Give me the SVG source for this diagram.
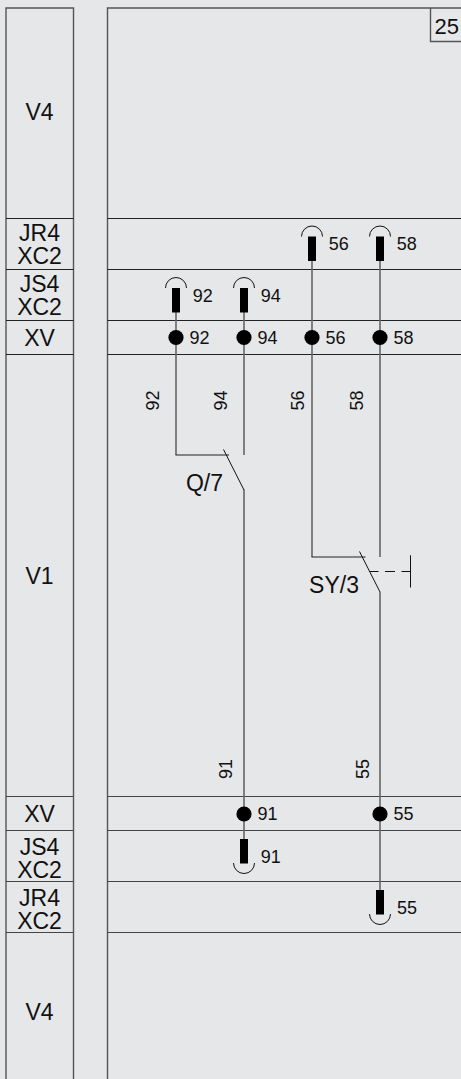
<svg xmlns="http://www.w3.org/2000/svg" width="461" height="1079" viewBox="0 0 461 1079">
<style>
.g{stroke:#555;stroke-width:1.4;fill:none}
.h{stroke:#222;stroke-width:1.1;fill:none}
.k{stroke:#444;stroke-width:1.2;fill:none}
.w{stroke:#666;stroke-width:1.6;fill:none}
.d{stroke:#222;stroke-width:1.1;fill:none}
.s{stroke:#111;stroke-width:1;fill:none}
.t{font-family:"Liberation Sans",Arial,sans-serif;fill:#111}
.l{font-size:23px;text-anchor:middle}
.n{font-size:18px}
.p{fill:#000}
</style>
<rect width="461" height="1079" fill="#e6e7e9"/>
<g id="frame">
<path class="g" d="M6 1079V8H73.500V1079M107.500 1079V8H461"/>
<path class="h" d="M6 218.500H73.500M6 269.500H73.500M6 320.500H73.500M6 354.500H73.500"/>
<path class="k" d="M6 796.500H73.500M6 830.500H73.500M6 881.500H73.500M6 932.500H73.500"/>
<path class="h" d="M107.500 218.500H461M107.500 269.500H461M107.500 320.500H461M107.500 354.500H461"/>
<path class="k" d="M107.500 796.500H461M107.500 830.500H461M107.500 881.500H461M107.500 932.500H461"/>
<path class="g" d="M430.500 8V41.500H461"/>
<text class="t" x="434.500" y="33.500" font-size="22">25</text>
</g>
<g id="row-labels">
<text class="t l" x="39.500" y="119.500">V4</text>
<text class="t l" x="39.500" y="241">JR4</text><text class="t l" x="39.500" y="263.500">XC2</text>
<text class="t l" x="39.500" y="292">JS4</text><text class="t l" x="39.500" y="314.500">XC2</text>
<text class="t l" x="39.500" y="345.500">XV</text>
<text class="t l" x="39.500" y="584">V1</text>
<text class="t l" x="39.500" y="822">XV</text>
<text class="t l" x="39.500" y="855">JS4</text><text class="t l" x="39.500" y="877.500">XC2</text>
<text class="t l" x="39.500" y="906">JR4</text><text class="t l" x="39.500" y="928.500">XC2</text>
<text class="t l" x="39.500" y="1020">V4</text>
</g>
<g id="connectors">
<path class="w" d="M176 312V455"/>
<path class="d" d="M175.500 455H229"/>
<path class="w" d="M244 312V455"/>
<path class="w" d="M244 489.500V848"/>
<path class="w" d="M312 260V557"/>
<path class="d" d="M311.500 557H365.500"/>
<path class="w" d="M380 260V557"/>
<path class="w" d="M380 592V900"/>
</g>
<g id="Q7">
<path class="s" d="M223.500 449.500L244 490"/>
<text class="t l" x="204.500" y="490.500">Q/7</text>
</g>
<g id="SY3">
<path class="s" d="M359.500 551.500L380 592"/>
<path class="s" d="M370 571.500H410" stroke-dasharray="8.500 6.500 10 6.500 8.500"/>
<path class="s" d="M410.500 555.300V587.500"/>
<text class="t l" x="334" y="593">SY/3</text>
</g>
<g id="terminals">
<circle class="p" cx="176" cy="337.500" r="7.600"/><circle class="p" cx="244" cy="337.500" r="7.600"/><circle class="p" cx="312" cy="337.500" r="7.600"/><circle class="p" cx="380" cy="337.500" r="7.600"/><circle class="p" cx="244" cy="814" r="7.600"/><circle class="p" cx="380" cy="814" r="7.600"/>
<text class="t n" x="189.500" y="343.700">92</text><text class="t n" x="257.500" y="343.700">94</text><text class="t n" x="325.500" y="343.700">56</text><text class="t n" x="393.500" y="343.700">58</text><text class="t n" x="257.500" y="820">91</text><text class="t n" x="393.500" y="820">55</text>
</g>
<g id="connectors-pins">
<rect class="p" x="172" y="288" width="8" height="24.500"/>
<rect class="p" x="240" y="288" width="8" height="24.500"/>
<rect class="p" x="308" y="236.500" width="8" height="24.500"/>
<rect class="p" x="376" y="236.500" width="8" height="24.500"/>
<rect class="p" x="240" y="839" width="8" height="24.500"/>
<rect class="p" x="376" y="890" width="8" height="24.500"/>
<path class="s" d="M165.500 288A10.500 10.500 0 0 1 186.500 288"/>
<path class="s" d="M233.500 288A10.500 10.500 0 0 1 254.500 288"/>
<path class="s" d="M301.500 236.500A10.500 10.500 0 0 1 322.500 236.500"/>
<path class="s" d="M369.500 236.500A10.500 10.500 0 0 1 390.500 236.500"/>
<path class="s" d="M233.500 863A10.500 10.500 0 0 0 254.500 863"/>
<path class="s" d="M369.500 914A10.500 10.500 0 0 0 390.500 914"/>
<text class="t n" x="192.800" y="301.500">92</text><text class="t n" x="260.800" y="301.500">94</text><text class="t n" x="328.800" y="250">56</text><text class="t n" x="396.800" y="250">58</text><text class="t n" x="260.800" y="862.500">91</text><text class="t n" x="397" y="913.500">55</text>
</g>
<g id="wire-labels">
<text class="t n" transform="translate(159 410.500) rotate(-90)">92</text>
<text class="t n" transform="translate(227 410.500) rotate(-90)">94</text>
<text class="t n" transform="translate(304 410.500) rotate(-90)">56</text>
<text class="t n" transform="translate(363 410.500) rotate(-90)">58</text>
<text class="t n" transform="translate(232 779) rotate(-90)">91</text>
<text class="t n" transform="translate(368.500 779) rotate(-90)">55</text>
</g>
</svg>
